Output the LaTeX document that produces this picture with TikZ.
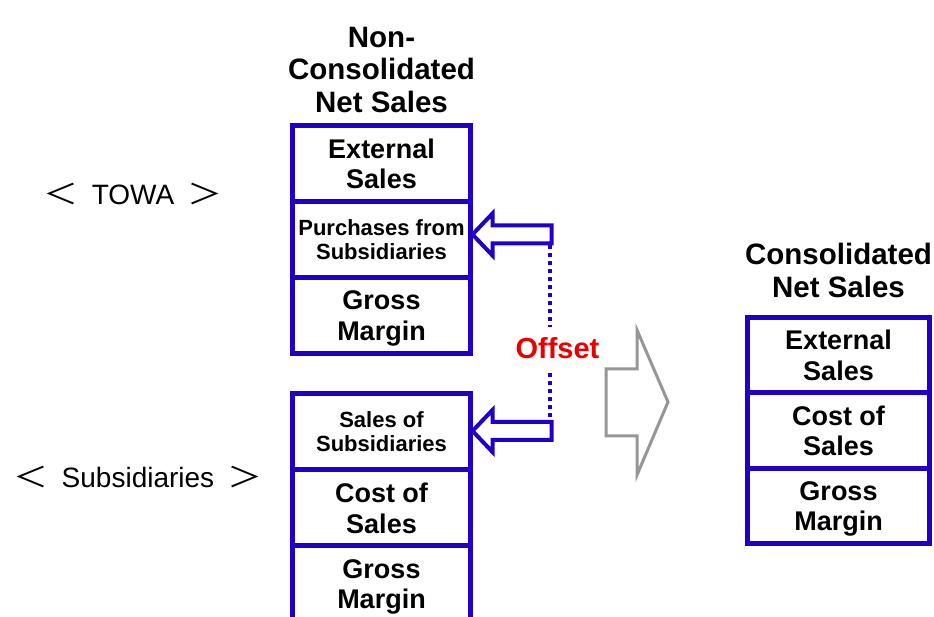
\documentclass[tikz,border=0pt]{standalone}
\usepackage{fontspec}
\setmainfont{Liberation Sans}
\newfontfamily\cjk{Noto Sans CJK JP}[FakeStretch=1.25]
\usetikzlibrary{positioning, calc}
\definecolor{towablue}{RGB}{30,0,200}
\definecolor{arrowgray}{RGB}{150,150,150}
\definecolor{offsetred}{RGB}{235,0,0}

\begin{document}
\begin{tikzpicture}[
        x=1pt, y=1pt,
        node distance=0pt,
        cell/.style={rectangle, draw=towablue, line width=5pt, fill=white, minimum width=178pt, minimum height=76pt, inner sep=0pt, outer sep=0pt, align=center, text depth=0pt, font=\bfseries\fontsize{27}{30.5}\selectfont, execute at begin node={\rule{0pt}{32pt}}},
        small/.style={font=\bfseries\fontsize{22}{24}\selectfont, execute at begin node={\rule{0pt}{23pt}}},
        title/.style={inner sep=0pt, align=center, font=\bfseries\fontsize{29.5}{32.5}\selectfont},
        company/.style={inner sep=0pt, anchor=base, font=\fontsize{28}{30}\selectfont},
        hollow/.style={draw=towablue, line width=4pt, fill=white, line join=miter},
        offsetline/.style={draw=towablue, line width=3.5pt, dash pattern=on 4pt off 4pt},
        bigarrow/.style={draw=arrowgray, line width=3pt, fill=white, line join=miter}
    ]
    \useasboundingbox (0,0) rectangle (934,617);

    % TOWA
    \node (ext) [cell] at (381.5,453.5) {External\\Sales};
    \node (pur) [cell, small, below=of ext] {Purchases from\\Subsidiaries};
    \node (gm) [cell, below=of pur] {Gross\\Margin};
    \node (ntitle) [title, above=12.5pt of ext] {Non-\\Consolidated\\Net Sales};

    % subsidiaries
    \node (ssub) [cell, small, below=40.5pt of gm] {Sales of\\Subsidiaries};
    \node (scost) [cell, below=of ssub] {Cost of\\Sales};
    \node (sgm) [cell, below=of scost] {Gross\\Margin};

    \node (towa) [company] at (133,412) {{\cjk ＜}\hspace{13pt}TOWA\hspace{13pt}{\cjk ＞}};
    \node (subs) [company] at (138,129) {{\cjk ＜}\hspace{13pt}Subsidiaries\hspace{13pt}{\cjk ＞}};

    % consolidated
    \node (cext) [cell, minimum width=182pt, minimum height=75.5pt] at (838.5,261.75) {External\\Sales};
    \node (ccost) [cell, minimum width=182pt, minimum height=75.5pt, below=of cext] {Cost of\\Sales};
    \node (cgm) [cell, minimum width=182pt, minimum height=75.5pt, below=of ccost] {Gross\\Margin};
    \node (ctitle) [title, above=20pt of cext] {Consolidated\\Net Sales};

    % offset arrows
    \coordinate (tip1) at ($(pur.east)+(2,5)$);
    \coordinate (tip2) at ($(ssub.east)+(2,1)$);
    \draw [hollow] (tip1) -- ++(20,21) -- ++(0,-12) -- ++(59,0) -- ++(0,-18) coordinate (tail1) -- ++(-59,0) -- ++(0,-12) -- cycle;
    \draw [hollow] (tip2) -- ++(20,21) -- ++(0,-12) -- ++(59,0) coordinate (tail2) -- ++(0,-18) -- ++(-59,0) -- ++(0,-12) -- cycle;
    \draw [offsetline] ($(tail1)+(-1.5,-2)$) -- ($(tail2)+(-1.5,2)$);
    \node (off) [text=offsetred, fill=white, inner xsep=2pt, inner ysep=10pt, font=\bfseries\fontsize{29}{30}\selectfont] at ($(tail1)!0.585!(tail2)+(6,0)$) {Offset};

    \draw [bigarrow] (606,248) -- (637,248) -- (637,287) -- (668,215) -- (637,142) -- (637,181) -- (606,181) -- cycle;

    \end{tikzpicture}
\end{document}
